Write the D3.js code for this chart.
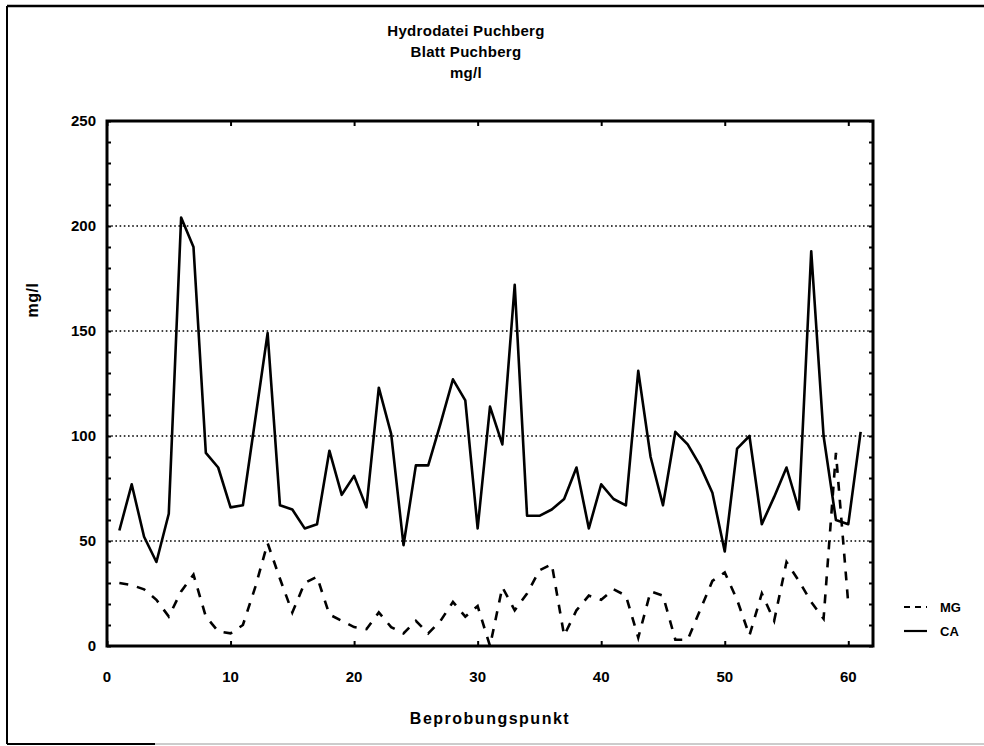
<!DOCTYPE html>
<html>
<head>
<meta charset="utf-8">
<script src="https://cdn.jsdelivr.net/npm/d3@7"></script>
<style>
  html, body { margin: 0; padding: 0; background: #fff; }
  svg { display: block; }
  text { font-family: "Liberation Sans", Arial, sans-serif; font-weight: bold; fill: #000; }
</style>
</head>
<body>
<svg id="chart" width="984" height="746"></svg>
<script>
// ---- data ----
const titleLines = ["Hydrodatei Puchberg", "Blatt Puchberg", "mg/l"];
const xLabel = "Beprobungspunkt";
const yLabel = "mg/l";
const points = d3.range(1, 62); // Beprobungspunkt 1..61
const caValues = [55, 77, 52, 40, 63, 204, 190, 92, 85, 66, 67, 108, 149, 67, 65, 56, 58, 93, 72, 81,
                  66, 123, 101, 48, 86, 86, 106, 127, 117, 56, 114, 96, 172, 62, 62, 65, 70, 85, 56, 77,
                  70, 67, 131, 90, 67, 102, 96, 86, 73, 45, 94, 100, 58, 71, 85, 65, 188, 100, 60, 58, 102];
const mgValues = [30, 29, 27, 22, 14, 26, 34, 14, 7, 6, 10, 28, 49, 32, 16, 30, 33, 15, 12, 9,
                  8, 16, 9, 6, 12, 6, 12, 21, 14, 19, 0, 28, 17, 25, 36, 39, 5, 17, 24, 22,
                  27, 24, 4, 26, 24, 3, 3, 17, 31, 35, 22, 5, 25, 12, 40, 31, 21, 13, 92, 20, null];
const xTicks = [0, 10, 20, 30, 40, 50, 60];
const yTicks = [0, 50, 100, 150, 200, 250];
const gridValues = [50, 100, 150, 200];
const legendItems = ["MG", "CA"];

// ---- layout ----
const svg = d3.select("#chart");
const plot = { left: 107, right: 873, top: 121, bottom: 646 };
const x = d3.scaleLinear().domain([0, 62]).range([plot.left, plot.right]);
const y = d3.scaleLinear().domain([0, 250]).range([plot.bottom, plot.top]);

// outer frame (left, top, bottom)
svg.append("line").attr("x1", 7).attr("x2", 7).attr("y1", 6).attr("y2", 744)
  .attr("stroke", "#000").attr("stroke-width", 2);
svg.append("line").attr("x1", 7).attr("x2", 984).attr("y1", 6).attr("y2", 6)
  .attr("stroke", "#000").attr("stroke-width", 2.5);
svg.append("line").attr("x1", 7).attr("x2", 155).attr("y1", 744).attr("y2", 744)
  .attr("stroke", "#000").attr("stroke-width", 2);
svg.append("line").attr("x1", 155).attr("x2", 984).attr("y1", 744).attr("y2", 744)
  .attr("stroke", "#bbb").attr("stroke-width", 1.5);

// titles
titleLines.forEach((t, i) => {
  svg.append("text").attr("x", 466).attr("y", 36 + i * 21)
    .attr("text-anchor", "middle").attr("font-size", 15).attr("letter-spacing", 0.3).text(t);
});

// grid lines (dotted)
svg.append("g").selectAll("line").data(gridValues).join("line")
  .attr("x1", plot.left).attr("x2", plot.right)
  .attr("y1", d => y(d)).attr("y2", d => y(d))
  .attr("stroke", "#000").attr("stroke-width", 1.6).attr("stroke-dasharray", "1.6,2.6");

// axes: ticks inward
const minorY = d3.range(0, 251, 10);
const axisLeft = d3.axisRight(y).tickValues(minorY).tickSize(4).tickFormat("");
const axisRight = d3.axisLeft(y).tickValues(minorY).tickSize(4).tickFormat("");
const axisBottom = d3.axisTop(x).tickValues(xTicks).tickSize(5).tickFormat("");
const axisTop = d3.axisBottom(x).tickValues(xTicks).tickSize(5).tickFormat("");
[
  [axisLeft, `translate(${plot.left},0)`],
  [axisRight, `translate(${plot.right},0)`],
  [axisBottom, `translate(0,${plot.bottom})`],
  [axisTop, `translate(0,${plot.top})`]
].forEach(([ax, tr]) => {
  const g = svg.append("g").attr("transform", tr).call(ax);
  g.select(".domain").remove();
  g.selectAll(".tick line").attr("stroke", "#000").attr("stroke-width", 2);
});

// tick labels
svg.append("g").selectAll("text").data(yTicks).join("text")
  .attr("x", 96).attr("y", d => y(d) + 5)
  .attr("text-anchor", "end").attr("font-size", 15).text(d => d);
svg.append("g").selectAll("text").data(xTicks).join("text")
  .attr("x", d => x(d)).attr("y", 682)
  .attr("text-anchor", "middle").attr("font-size", 15).text(d => d);

// axis titles
svg.append("text").attr("x", 490).attr("y", 724).attr("text-anchor", "middle")
  .attr("font-size", 16).attr("letter-spacing", 1.5).text(xLabel);
svg.append("text").attr("transform", "translate(38,300) rotate(-90)")
  .attr("text-anchor", "middle").attr("font-size", 16).attr("letter-spacing", 0.5).text(yLabel);

// series
const line = d3.line().defined(d => d[1] != null).x(d => x(d[0])).y(d => y(d[1]));
svg.append("path").datum(points.map((p, i) => [p, mgValues[i]]))
  .attr("d", line).attr("fill", "none").attr("stroke", "#000")
  .attr("stroke-width", 2.6).attr("stroke-dasharray", "9,9");
svg.append("path").datum(points.map((p, i) => [p, caValues[i]]))
  .attr("d", line).attr("fill", "none").attr("stroke", "#000")
  .attr("stroke-width", 2.6).attr("stroke-linejoin", "round");

// plot frame
svg.append("rect").attr("x", plot.left).attr("y", plot.top)
  .attr("width", plot.right - plot.left).attr("height", plot.bottom - plot.top)
  .attr("fill", "none").attr("stroke", "#000").attr("stroke-width", 3);

// legend
const lg = svg.append("g");
legendItems.forEach((name, i) => {
  const ly = 607 + i * 24;
  lg.append("line").attr("x1", 904).attr("x2", 927).attr("y1", ly).attr("y2", ly)
    .attr("stroke", "#000").attr("stroke-width", 2.2)
    .attr("stroke-dasharray", name === "MG" ? "6,5" : null);
  lg.append("text").attr("x", 940).attr("y", ly + 5).attr("font-size", 13).text(name);
});
</script>
</body>
</html>
